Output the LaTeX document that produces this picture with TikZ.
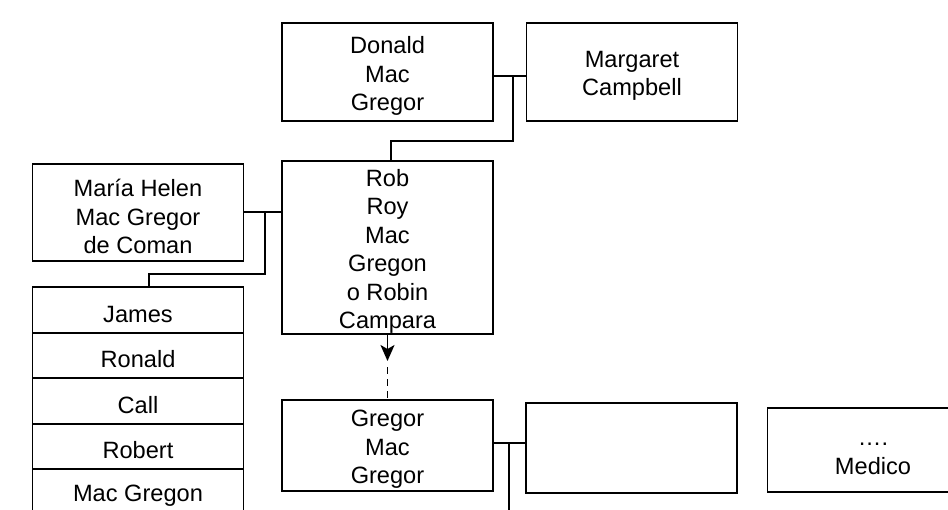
\documentclass[tikz,border=0pt]{standalone}
\usepackage{fontspec}
\setmainfont{Liberation Sans}
\usetikzlibrary{arrows.meta}
\begin{document}
\begin{tikzpicture}[x=1pt,y=-1pt,
  box/.style={draw=black,line width=1.9pt,rectangle,inner sep=0pt,minimum width=211pt},
  txt/.style={align=center,inner sep=0pt,font=\fontsize{23.6}{28.5}\selectfont,yshift=-4pt},
  link/.style={draw=black,line width=1.9pt},
  wed/.style={draw=black,line width=2.7pt},
  ]
\path[use as bounding box,clip] (0,0) rectangle (948,509);
\fill[white] (0,0) rectangle (948,509);
% boxes
\node[box,minimum height=98pt,label={[txt]center:{Donald\\Mac\\Gregor}}] (donald) at (387.5,72) {};
\node[box,minimum height=98pt,label={[txt]center:{Margaret\\Campbell}}] (margaret) at (632,72) {};
\node[box,minimum height=97pt,label={[txt]center:{María Helen\\Mac Gregor\\de Coman}}] (maria) at (138,212.5) {};
\node[box,minimum height=173pt,label={[txt]center:{Rob\\Roy\\Mac\\Gregon\\o Robin\\Campara}}] (rob) at (387.5,247.5) {};
\node[box,minimum height=46pt,label={[txt]center:{James}}] (james) at (138,310) {};
\node[box,minimum height=45.5pt,label={[txt]center:{Ronald}}] (ronald) at (138,355.5) {};
\node[box,minimum height=45.5pt,label={[txt]center:{Call}}] (call) at (138,401) {};
\node[box,minimum height=45.5pt,label={[txt]center:{Robert}}] (robert) at (138,446.5) {};
\node[box,minimum height=46pt,label={[txt]center:{Mac Gregon}}] (macgregon) at (138,492) {};
\node[box,minimum height=91pt,label={[txt]center:{Gregor\\Mac\\Gregor}}] (gregor) at (387.5,445.5) {};
\node[box,minimum height=90pt] (blank) at (631.5,448) {};
\node[box,minimum height=84pt,label={[txt,yshift=-5pt]center:{….\\Medico}}] (medico) at (873,450) {};
% Donald -- Margaret
\coordinate (dm) at (513,76);
\draw[link] (donald.east |- dm) -- (dm);
\draw[wed] (dm) -- (margaret.west |- dm);
\draw[link] (dm) -- (513,141) -- (391,141) -- (391,0 |- rob.north);
% Maria -- Rob
\coordinate (mr) at (265,212);
\draw[link] (maria.east |- mr) -- (mr);
\draw[wed] (mr) -- (rob.west |- mr);
\draw[link] (mr) -- (265,274) -- (149,274) -- (149,0 |- james.north);
% Rob -> Gregor
\coordinate (tip) at (387.5,361);
\draw[link,-{Stealth[length=16pt,width=14pt,inset=4pt]}] (rob.south) -- (tip);
\draw[link,dash pattern=on 7pt off 5pt] (387.5,367) -- (387.5 ,0 |- gregor.north);
% Gregor -- blank
\coordinate (gb) at (509,443);
\draw[link] (gregor.east |- gb) -- (gb);
\draw[wed] (gb) -- (blank.west |- gb);
\draw[link] (gb) -- (509,520);
\end{tikzpicture}
\end{document}
